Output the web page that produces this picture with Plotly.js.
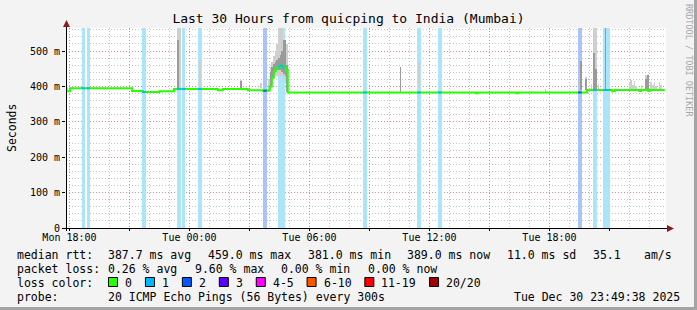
<!DOCTYPE html>
<html>
<head>
<meta charset="utf-8">
<script src="https://cdn.plot.ly/plotly-3.0.1.min.js"></script>
<style>
html,body{margin:0;padding:0;background:#f3f3f3;}
#chart{width:697px;height:310px;}
</style>
</head>
<body>
<div id="chart"></div>
<script>
// ---------------- DATA ----------------
const rangeStart = "2025-12-29 17:49:38";
const rangeEnd   = "2025-12-30 23:49:38";
const yMax = 565;

const xTickTimes = ["2025-12-29 18:00","2025-12-29 21:00","2025-12-30 00:00","2025-12-30 03:00","2025-12-30 06:00","2025-12-30 09:00","2025-12-30 12:00","2025-12-30 15:00","2025-12-30 18:00","2025-12-30 21:00"];
const xTickLabels = ["Mon 18:00","","Tue 00:00","","Tue 06:00","","Tue 12:00","","Tue 18:00",""];
const yTickValues = [0,100,200,300,400,500];
const yTickLabels = ["0","100 m","200 m","300 m","400 m","500 m"];

// median rtt (ms), step changes
const medianTimes = ["2025-12-29 17:50","2025-12-29 18:02","2025-12-29 21:08","2025-12-29 21:40","2025-12-29 22:30","2025-12-29 23:14",
  "2025-12-30 01:25","2025-12-30 01:40","2025-12-30 02:55","2025-12-30 03:40",
  "2025-12-30 03:56","2025-12-30 04:01","2025-12-30 04:07","2025-12-30 04:13","2025-12-30 04:19","2025-12-30 04:25","2025-12-30 04:31","2025-12-30 04:37","2025-12-30 04:43","2025-12-30 04:49","2025-12-30 04:55",
  "2025-12-30 14:20","2025-12-30 14:25","2025-12-30 16:20","2025-12-30 16:25","2025-12-30 19:53","2025-12-30 21:08","2025-12-30 21:16","2025-12-30 22:30","2025-12-30 22:35","2025-12-30 22:56","2025-12-30 23:01","2025-12-30 23:40","2025-12-30 23:46"];
const medianValues = [386,395,387,384,386,393,
  389,393,389,388,
  389,400,425,443,452,456,459,458,453,446,383,
  381,383,381,383,390,386,390,387,390,387,390,389,389];

// packet loss per 5-minute step (number of lost pings of 20)
const lossTimes = ["2025-12-29 18:39","2025-12-29 18:44","2025-12-29 18:54","2025-12-29 18:59","2025-12-29 21:41","2025-12-29 21:46",
  "2025-12-29 23:26","2025-12-29 23:31","2025-12-29 23:40","2025-12-29 23:45","2025-12-30 00:29","2025-12-30 00:34",
  "2025-12-30 03:44","2025-12-30 03:49","2025-12-30 04:28","2025-12-30 04:33","2025-12-30 04:38","2025-12-30 04:43",
  "2025-12-30 08:44","2025-12-30 08:49","2025-12-30 11:26","2025-12-30 11:31","2025-12-30 12:29","2025-12-30 12:34",
  "2025-12-30 19:29","2025-12-30 19:34","2025-12-30 20:14","2025-12-30 20:19",
  "2025-12-30 20:44","2025-12-30 20:49","2025-12-30 20:54","2025-12-30 20:59"];
const lossCounts = [1,1,1,1,1,1, 1,1,1,1,1,1, 2,2,1,1,1,1, 1,1,1,1,1,1, 2,2,1,1, 1,1,1,1];

// smoke: full spread of the 20 pings (light) and the central part (dark)
const smokeTimes = ["2025-12-29 17:53","2025-12-29 23:26","2025-12-29 23:31","2025-12-29 23:45","2025-12-30 00:31","2025-12-30 02:34","2025-12-30 03:34",
  "2025-12-30 03:58","2025-12-30 04:03","2025-12-30 04:08","2025-12-30 04:13","2025-12-30 04:18","2025-12-30 04:23","2025-12-30 04:28","2025-12-30 04:33","2025-12-30 04:38","2025-12-30 04:43","2025-12-30 04:48","2025-12-30 04:53",
  "2025-12-30 10:33","2025-12-30 11:29","2025-12-30 17:48","2025-12-30 19:34","2025-12-30 19:49","2025-12-30 20:06","2025-12-30 20:14","2025-12-30 20:19","2025-12-30 20:27","2025-12-30 20:48",
  "2025-12-30 22:00","2025-12-30 22:05","2025-12-30 22:10","2025-12-30 22:15","2025-12-30 22:20","2025-12-30 22:36","2025-12-30 22:50","2025-12-30 22:55",
  "2025-12-30 23:05","2025-12-30 23:10","2025-12-30 23:15","2025-12-30 23:20","2025-12-30 23:30","2025-12-30 23:35"];
const smokeLow  = [384,393,393,395,395,395,395, 385,390,405,420,430,430,430,430,430,420,410,385, 385,395,385,389,389,389,389,389,389,389, 389,389,389,389,389,389,389,389, 389,389,389,389,389,389];
const smokeHigh = [398,565,565,410,475,417,410, 420,455,470,485,500,520,565,565,565,530,530,520, 455,470,393,473,427,408,565,565,408,565, 410,417,405,415,400,405,431,425, 413,405,413,400,413,405];

const coreTimes = ["2025-12-29 23:26","2025-12-30 02:34",
  "2025-12-30 04:03","2025-12-30 04:08","2025-12-30 04:13","2025-12-30 04:18","2025-12-30 04:23","2025-12-30 04:28","2025-12-30 04:33","2025-12-30 04:38","2025-12-30 04:43","2025-12-30 04:48","2025-12-30 04:53",
  "2025-12-30 10:33","2025-12-30 19:34","2025-12-30 19:49","2025-12-30 20:14","2025-12-30 20:19","2025-12-30 20:48","2025-12-30 22:50","2025-12-30 22:55"];
const coreLow  = [395,395, 395,420,435,440,445,445,445,440,435,430,385, 385,389,389,389,389,389,389,389];
const coreHigh = [530,415, 440,455,462,470,475,480,490,500,530,530,460, 455,473,420,493,450,565,420,431];

// legend texts
const rttLabel = "median rtt:";
const rttStats = ["387.7 ms avg","459.0 ms max","381.0 ms min","389.0 ms now","11.0 ms sd","35.1","am/s"];
const lossLabel = "packet loss:";
const lossStats = ["0.26 % avg","9.60 % max","0.00 % min","0.00 % now"];
const lossColorLabel = "loss color:";
const lossLegendLabels = ["0","1","2","3","4-5","6-10","11-19","20/20"];
const probeLabel = "probe:";
const probeText = "20 ICMP Echo Pings (56 Bytes) every 300s";
const stampText = "Tue Dec 30 23:49:38 2025";
const titleText = "Last 30 Hours from quicping to India (Mumbai)";
const yTitle = "Seconds";
const sideText = "RRDTOOL / TOBI OETIKER";

// ---------------- STYLE ----------------
const legendColors = ["#26ff00","#00b8ff","#0059ff","#5e00ff","#ff00ff","#ff5500","#ff0000","#a10000"];
const lineLossColors = {0:"#26ff00",1:"#00b8ff",2:"#0059ff"};
const bandColors = {1:"#aae5f9",2:"#a9c4fb"};
const MONO = "DejaVu Sans Mono";

function toMs(s){
  const [d,t] = s.split(" ");
  const [Y,M,D] = d.split("-").map(Number);
  const [h,m,sec] = t.split(":").map(Number);
  return Date.UTC(Y,M-1,D,h,m,sec||0);
}
const STEP = 300000;

const L=66, Rm=31, T=28, Bm=82, PW=600, PH=200;
const px = x => (x-L)/PW;
const py = y => (228-y)/PH;

// median value at a time (step lookup)
function medianAt(ms){
  let v = medianValues[0];
  for (let i=0;i<medianTimes.length;i++){ if (toMs(medianTimes[i])<=ms) v = medianValues[i]; }
  return v;
}

const traces = [];
// loss bands
traces.push({
  type:"bar", x: lossTimes.map(toMs), y: lossTimes.map(()=>yMax), base: 0,
  width: lossTimes.map(()=>STEP),
  marker:{color: lossCounts.map(c=>bandColors[c]), line:{width:0}},
  hoverinfo:"skip", showlegend:false
});
// smoke
traces.push({
  type:"bar", x: smokeTimes.map(toMs), y: smokeHigh.map((h,i)=>h-smokeLow[i]), base: smokeLow,
  width: smokeTimes.map(()=>STEP),
  marker:{color:"#cfcfcf", line:{width:0}}, hoverinfo:"skip", showlegend:false
});
traces.push({
  type:"bar", x: coreTimes.map(toMs), y: coreHigh.map((h,i)=>h-coreLow[i]), base: coreLow,
  width: coreTimes.map(()=>STEP),
  marker:{color:"#9a9a9a", line:{width:0}}, hoverinfo:"skip", showlegend:false
});
// median line
traces.push({
  type:"scatter", mode:"lines", x: medianTimes.map(toMs), y: medianValues,
  line:{color:"#26ff00", width:2, shape:"hv"}, hoverinfo:"skip", showlegend:false
});
// median colored by loss
[1,2].forEach(level=>{
  const xs=[], ys=[];
  lossTimes.forEach((t,i)=>{
    if (lossCounts[i]!==level) return;
    const ms = toMs(t);
    const v = medianAt(ms);
    xs.push(ms-STEP/2, ms+STEP/2, null); ys.push(v, v, null);
  });
  traces.push({type:"scatter", mode:"lines", x:xs, y:ys, line:{color:lineLossColors[level], width:2},
    hoverinfo:"skip", showlegend:false, connectgaps:false});
});

// ---------------- ANNOTATIONS ----------------
const ann = [];
function txt(x,y,text,size,opts){
  ann.push(Object.assign({xref:"paper",yref:"paper",x:px(x),y:py(y),text:text,showarrow:false,
    xanchor:"left",yanchor:"middle",borderpad:0,font:{family:MONO,size:size||11.5,color:"#000"}},opts||{}));
}
const CW = 6.94;
const R1=254.5, R2=268.5, R3=282.5, R4=296.5;
// row 1
txt(16,R1,rttLabel);
const r1x = [107,206.8,306.6,406.4,506.2,592,642.7];
rttStats.forEach((s,i)=>txt(r1x[i],R1,s));
// row 2
txt(16,R2,lossLabel);
lossStats.forEach((s,i)=>txt(107+i*86.7,R2,s));
// row 3
txt(16,R3,lossColorLabel);
const shapes = [];
let bx = 108;
lossLegendLabels.forEach((lab,i)=>{
  shapes.push({type:"rect",xref:"paper",yref:"paper",x0:px(bx+0.5),x1:px(bx+9.5),y0:py(286.5),y1:py(277.5),
    fillcolor:legendColors[i],line:{color:"#000",width:1},layer:"above"});
  txt(bx+16,R3,lab);
  bx = bx + 16 + lab.length*CW + 14;
});
// row 4
txt(16,R4,probeLabel);
txt(107,R4,probeText);
txt(513,R4,stampText);
// y title
ann.push({xref:"paper",yref:"paper",x:px(12),y:py(128),text:yTitle,showarrow:false,textangle:-90,
  xanchor:"center",yanchor:"middle",font:{family:MONO,size:11.5,color:"#000"}});
// side text
ann.push({xref:"paper",yref:"paper",x:px(689),y:py(60),text:sideText,showarrow:false,textangle:90,
  xanchor:"center",yanchor:"middle",font:{family:MONO,size:8.5,color:"#a8a8a8"}});

// axis lines & arrows
const AX = "#000", AR = "#8b1c1c";
shapes.push({type:"line",xref:"paper",yref:"paper",x0:px(62),x1:px(667),y0:py(228.5),y1:py(228.5),line:{color:AX,width:1},layer:"above"});
shapes.push({type:"line",xref:"paper",yref:"paper",x0:px(66.5),x1:px(66.5),y0:py(231),y1:py(25),line:{color:AX,width:1},layer:"above"});
shapes.push({type:"path",xref:"paper",yref:"paper",
  path:`M ${px(66.5)} ${py(20)} L ${px(63)} ${py(27)} L ${px(70)} ${py(27)} Z`,fillcolor:AR,line:{width:0},layer:"above"});
shapes.push({type:"path",xref:"paper",yref:"paper",
  path:`M ${px(674)} ${py(228.5)} L ${px(667)} ${py(225)} L ${px(667)} ${py(232)} Z`,fillcolor:AR,line:{width:0},layer:"above"});
// frame (right / bottom shadow)
shapes.push({type:"rect",xref:"paper",yref:"paper",x0:px(694),x1:px(697),y0:py(0),y1:py(310),fillcolor:"#a4a4a4",line:{width:0},layer:"above"});
shapes.push({type:"rect",xref:"paper",yref:"paper",x0:px(0),x1:px(697),y0:py(307),y1:py(310),fillcolor:"#a4a4a4",line:{width:0},layer:"above"});

const layout = {
  width:697, height:310,
  margin:{l:L, r:Rm, t:T, b:Bm, pad:0},
  paper_bgcolor:"#f3f3f3", plot_bgcolor:"#ffffff",
  barmode:"overlay", bargap:0,
  title:{text:titleText, xref:"container", yref:"container", x:0.5, y:1-18.5/310, xanchor:"center", yanchor:"middle",
    font:{family:MONO,size:13,color:"#000"}},
  xaxis:{type:"date", range:[toMs(rangeStart), toMs(rangeEnd)], fixedrange:true,
    tickvals: xTickTimes.map(toMs), ticktext: xTickLabels,
    showgrid:true, gridcolor:"rgba(235,120,120,0.75)", griddash:"1px,2px", gridwidth:1,
    minor:{dtick:3600000, tick0:toMs("2025-12-29 18:00"), showgrid:true, gridcolor:"#c4c4c4", griddash:"1px,2px", gridwidth:1},
    ticks:"outside", ticklen:2, tickcolor:"#000", showline:false, zeroline:false, ticklabelstandoff:-2,
    tickfont:{family:MONO,size:10,color:"#000"}},
  yaxis:{range:[0,yMax], fixedrange:true, tickvals:yTickValues, ticktext:yTickLabels,
    showgrid:true, gridcolor:"rgba(235,120,120,0.75)", griddash:"1px,2px", gridwidth:1,
    minor:{dtick:20, tick0:0, showgrid:true, gridcolor:"#c4c4c4", griddash:"1px,2px", gridwidth:1},
    ticks:"outside", ticklen:3, tickcolor:"#000", showline:false, zeroline:false,
    tickfont:{family:MONO,size:10,color:"#000"}},
  annotations: ann,
  shapes: shapes,
  showlegend:false
};

Plotly.newPlot("chart", traces, layout, {staticPlot:true, displayModeBar:false});
</script>
</body>
</html>
